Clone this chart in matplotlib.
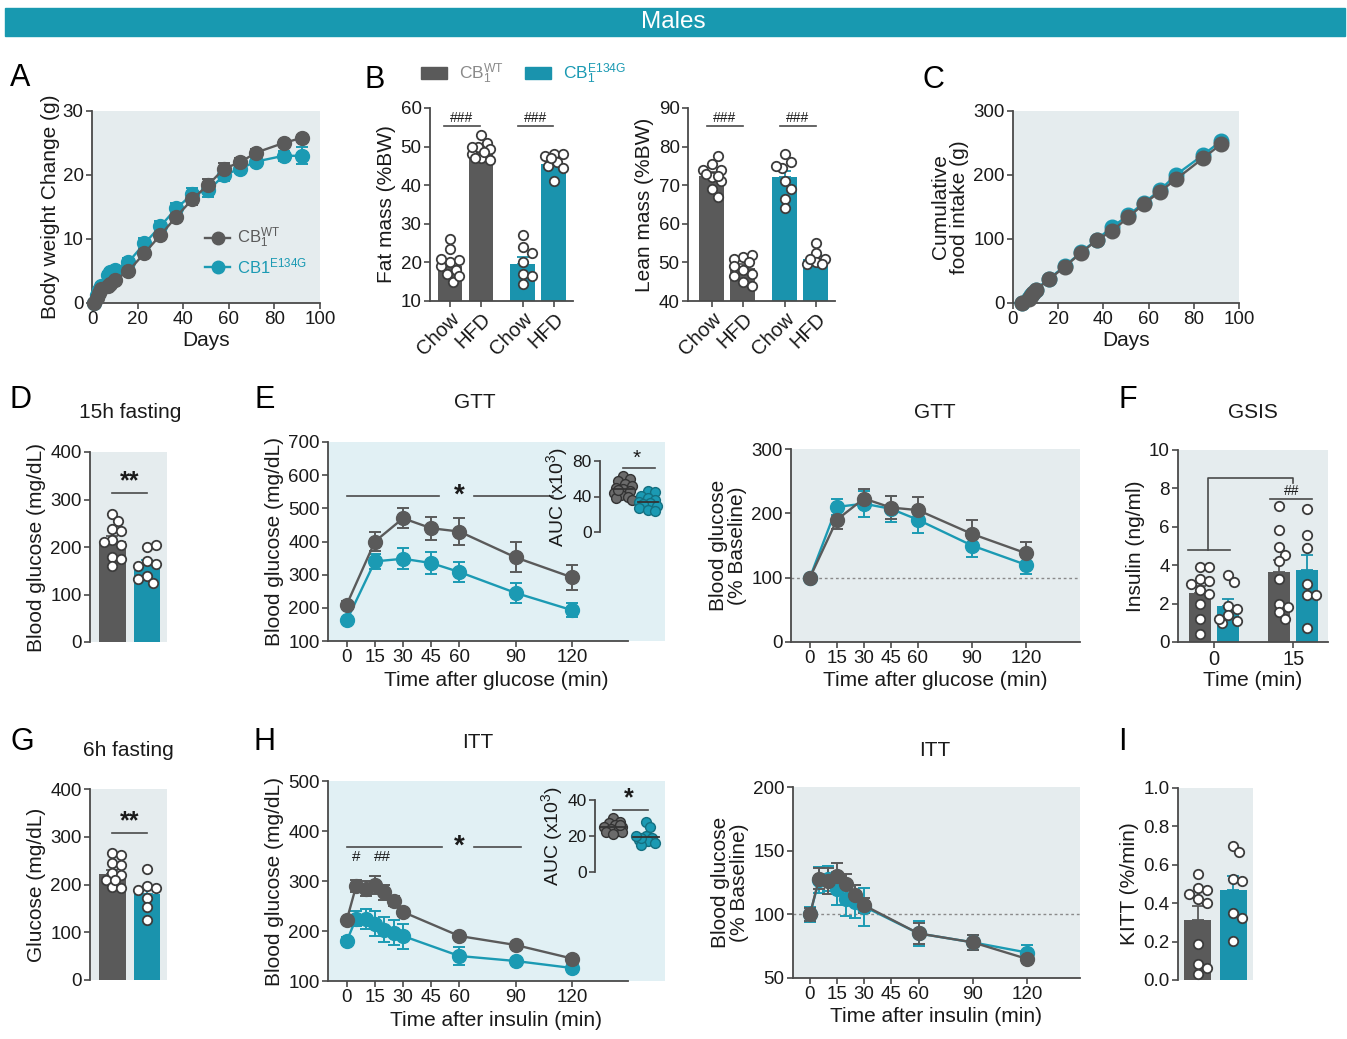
import matplotlib.pyplot as plt
import numpy as np
from matplotlib.patches import Patch, Rectangle
from matplotlib.lines import Line2D

plt.rcParams['font.family'] = ['Liberation Sans', 'DejaVu Sans']
plt.rcParams['mathtext.fontset'] = 'custom'
plt.rcParams['mathtext.rm'] = 'Liberation Sans'
plt.rcParams['mathtext.it'] = 'Liberation Sans:italic'
plt.rcParams['mathtext.bf'] = 'Liberation Sans:bold'

# ---------------- data ----------------
# A: body weight change
days_a = [1, 2, 3, 4, 7, 8, 10, 16, 23, 30, 37, 44, 51, 58, 65, 72, 84, 92]
bw_wt = [0, 0.8, 1.6, 2.2, 2.6, 3.0, 3.6, 5.0, 7.8, 10.6, 13.5, 16.2, 18.5, 21.0, 22.0, 23.5, 25.0, 25.8]
bw_wt_err = [0.2, 0.3, 0.3, 0.3, 0.4, 0.4, 0.4, 0.5, 0.6, 0.7, 0.7, 0.9, 0.8, 0.9, 0.6, 0.6, 0.5, 0.5]
bw_e = [0, 1.2, 2.0, 2.6, 4.4, 4.8, 5.2, 6.4, 9.3, 12.0, 14.8, 17.0, 17.6, 20.0, 21.0, 22.1, 23.0, 23.0]
bw_e_err = [0.2, 0.3, 0.3, 0.4, 0.5, 0.5, 0.5, 0.6, 0.8, 0.8, 0.8, 1.0, 1.0, 0.9, 0.7, 0.6, 0.8, 1.3]

# B: body composition
b_groups = ['Chow', 'HFD', 'Chow', 'HFD']
fat_mean = [19.0, 48.0, 19.5, 45.5]
fat_err = [1.2, 0.8, 1.8, 0.9]
fat_pts = [[23.5, 26, 20, 20.5, 18, 17, 15, 19, 21, 16.5],
           [53, 51, 50, 49.5, 48, 47, 46.5, 48.5, 47, 50],
           [27, 24, 22.5, 20, 17, 14.5, 16.5],
           [48, 48, 47.5, 46, 45, 44.5, 41, 47]]
lean_mean = [72.5, 48.5, 72.0, 51.0]
lean_err = [1.0, 1.0, 1.8, 0.7]
lean_pts = [[75.5, 74, 74, 77.5, 72, 69, 67, 71, 72.5, 73],
            [51.5, 52, 51, 50, 48, 47, 45, 44, 46.5, 49],
            [78, 76, 74.5, 75, 71, 69, 66.5, 64],
            [55, 52.5, 51, 50, 49.5, 49.5, 51]]

# C: cumulative food intake
days_c = [4, 7, 8, 9, 10, 16, 23, 30, 37, 44, 51, 58, 65, 72, 84, 92]
food_wt = [0, 7, 11, 15, 20, 37, 57, 78, 98, 113, 134, 155, 174, 193, 226, 248]
food_e = [0, 8, 12, 16, 21, 38, 58, 79, 99, 119, 137, 157, 176, 200, 231, 253]

# D: 15h fasting glucose
d_mean = [212, 163]
d_err = [12, 10]
d_pts = [[270, 255, 238, 233, 215, 205, 210, 180, 160, 175],
         [200, 205, 170, 165, 160, 140, 125, 133]]

# E: GTT
t_gtt = [0, 15, 30, 45, 60, 90, 120]
gtt_wt = [210, 400, 470, 440, 430, 352, 292]
gtt_wt_err = [10, 30, 30, 35, 40, 45, 38]
gtt_e = [162, 340, 348, 335, 308, 245, 193]
gtt_e_err = [8, 22, 32, 32, 30, 30, 22]
auc_gtt_wt = [63, 60, 57, 54, 52, 50, 48, 46, 44, 42, 40, 38, 36, 47]
auc_gtt_e = [46, 45, 41, 38, 36, 34, 33, 31, 29, 27, 25, 24]
gttp_wt = [100, 190, 223, 209, 205, 168, 138]
gttp_wt_err = [0, 15, 15, 18, 20, 22, 18]
gttp_e = [100, 210, 215, 207, 190, 150, 120]
gttp_e_err = [0, 12, 20, 20, 20, 18, 14]

# F: GSIS
f_mean = [2.55, 1.85, 3.65, 3.75]
f_err = [0.35, 0.4, 0.6, 0.8]
f_pts = [[3.9, 3.9, 3.3, 3.2, 3.0, 2.7, 2.5, 2.0, 1.2, 0.4],
         [3.5, 3.1, 1.9, 1.7, 1.4, 1.1, 1.0, 1.2],
         [7.1, 5.85, 4.95, 4.55, 4.2, 3.3, 2.0, 1.8, 1.55, 1.2],
         [6.95, 5.55, 4.9, 3.0, 2.45, 2.45, 0.75]]
f_ticks = ['0', '15']

# G: 6h fasting glucose
g_mean = [222, 180]
g_err = [8, 12]
g_pts = [[265, 262, 245, 240, 225, 220, 210, 195, 192, 210],
         [233, 197, 192, 188, 172, 153, 125]]

# H: ITT
t_itt = [0, 5, 10, 15, 20, 25, 30, 60, 90, 120]
itt_wt = [222, 290, 285, 292, 278, 260, 238, 190, 172, 145]
itt_wt_err = [5, 12, 15, 18, 15, 10, 8, 6, 5, 5]
itt_e = [180, 225, 225, 215, 203, 197, 190, 150, 140, 126]
itt_e_err = [8, 15, 20, 25, 25, 25, 25, 18, 5, 5]
auc_itt_wt = [30, 28, 27, 26, 25, 25, 24, 23, 22, 22, 21, 26]
auc_itt_e = [28, 25, 20, 19, 18, 17, 16, 15, 19, 20]
ittp_wt = [100, 128, 126, 130, 124, 115, 107, 85, 78, 65]
ittp_wt_err = [5, 8, 10, 10, 8, 8, 6, 8, 6, 3]
ittp_e = [100, 127, 128, 120, 112, 110, 106, 85, 78, 70]
ittp_e_err = [6, 10, 10, 13, 13, 13, 15, 10, 6, 6]

# I: KITT
i_mean = [0.315, 0.47]
i_err = [0.07, 0.07]
i_pts = [[0.55, 0.48, 0.47, 0.45, 0.42, 0.40, 0.19, 0.085, 0.065, 0.03],
         [0.70, 0.665, 0.525, 0.515, 0.35, 0.325, 0.205]]

# ---------------- style ----------------
W, H = 1347, 1039
GREY = '#5a5a5a'
TEAL = '#1b9ab3'
BTEAL = '#1a93ad'
AXC = '#4a4a4a'
TXT = '#1a1a1a'
BG_GREY = '#e5ecee'
BG_CYAN = '#e1f0f4'
HEAD = '#1899b0'
LBL = r'CB$_{1}^{\mathrm{WT}}$'
LBL_E = r'CB1$^{\mathrm{E134G}}$'
LBL_E1 = r'CB$_{1}^{\mathrm{E134G}}$'
FS_LAB = 15
FS_TICK = 13.5
FS_TIT = 15

fig = plt.figure(figsize=(W / 100, H / 100), dpi=100)


def px_ax(x0, y0, x1, y1):
    return fig.add_axes([x0 / W, 1 - y1 / H, (x1 - x0) / W, (y1 - y0) / H])


def ftext(x, y, s, **kw):
    fig.text(x / W, 1 - y / H, s, **kw)


def style(ax, bg=None, bottom=True, ls=FS_TICK):
    for s in ['top', 'right']:
        ax.spines[s].set_visible(False)
    for s in ['left', 'bottom']:
        ax.spines[s].set_color(AXC)
        ax.spines[s].set_linewidth(1.3)
    if not bottom:
        ax.spines['bottom'].set_visible(False)
        ax.set_xticks([])
    ax.tick_params(colors=AXC, labelcolor=TXT, labelsize=ls, length=4, width=1.2, pad=2)
    if bg:
        ax.set_facecolor(bg)
    else:
        ax.patch.set_alpha(0)


def swarm(ax, xc, vals, d, maxw, **kw):
    # place points side by side (in pixels) within +-maxw of the centre
    T = ax.transData
    inv = T.inverted()
    cx = T.transform((xc, 0))[0]
    step = d * 0.35
    n = int(maxw / step)
    cands = [0]
    for k in range(1, n + 1):
        cands += [k * step, -k * step]
    placed, xs = [], []
    for v in vals:
        py = T.transform((xc, v))[1]
        best, best_gap = 0, -1
        for off in cands:
            gap = min([np.hypot(cx + off - qx, py - qy) for qx, qy in placed] + [1e9])
            if gap >= d:
                best = off
                break
            if gap > best_gap:
                best, best_gap = off, gap
        placed.append((cx + best, py))
        xs.append(inv.transform((cx + best, py))[0])
    ax.scatter(xs, vals, clip_on=False, **kw)


def bars(ax, xs, means, errs, colors, pts, width, maxw):
    for x, m, e, c, p in zip(xs, means, errs, colors, pts):
        ax.bar(x, m, width, color=c, zorder=2)
        ax.errorbar(x, m, yerr=[[0], [e]], color=c, capsize=4, lw=1.3, capthick=1.3, zorder=2)
    for x, p in zip(xs, pts):
        swarm(ax, x, p, 8.5, maxw, s=46, facecolor='white', edgecolor='#3c3c3c', linewidth=1.3, zorder=4)


def line(ax, x, y, e, c, ms=10):
    cont = ax.errorbar(x, y, yerr=e, color=c, marker='o', ms=ms, lw=1.7, capsize=4,
                       elinewidth=1.4, capthick=1.4, zorder=3)
    for art in cont.get_children():
        art.set_clip_on(False)


def auc(ax, wt, e):
    swarm(ax, 0, wt, 6.5, 11, s=50, facecolor='#6b6b6b', edgecolor='#333333', linewidth=1, zorder=3)
    swarm(ax, 1, e, 6.5, 11, s=50, facecolor=TEAL, edgecolor='#146f80', linewidth=1, zorder=3)
    for x, v in [(0, wt), (1, e)]:
        m = np.mean(v)
        ax.plot([x - 0.4, x + 0.4], [m, m], color='#333333', lw=1.3, zorder=4, clip_on=False)


# header
fig.add_artist(Rectangle((5 / W, 1 - 36 / H), 1340 / W, 28 / H, transform=fig.transFigure,
                         color=HEAD, zorder=0))
ftext(673, 22, 'Males', color='white', fontsize=17.5, ha='center', va='center')

# panel letters
for s, x, y in [('A', 20, 78), ('B', 375, 80), ('C', 933, 80), ('D', 20, 400), ('E', 265, 400),
                ('F', 1128, 400), ('G', 22, 742), ('H', 265, 742), ('I', 1122, 742)]:
    ftext(x, y, s, fontsize=22, ha='center', va='center', color='black')

# ---------- A ----------
ax = px_ax(92, 111, 320, 303)
style(ax, BG_GREY)
line(ax, days_a, bw_e, bw_e_err, TEAL)
line(ax, days_a, bw_wt, bw_wt_err, GREY)
ax.set_xlim(0, 100)
ax.set_ylim(0, 30)
ax.set_xticks([0, 20, 40, 60, 80, 100])
ax.set_yticks([0, 10, 20, 30])
ax.set_xlabel('Days', fontsize=FS_LAB, color=TXT, labelpad=2)
ax.set_ylabel('Body weight Change (g)', fontsize=FS_LAB, color=TXT, labelpad=2)
hs = [Line2D([], [], color=GREY, marker='o', ms=9, lw=1.7),
      Line2D([], [], color=TEAL, marker='o', ms=9, lw=1.7)]
leg = ax.legend(hs, [LBL, LBL_E], loc='center left', bbox_to_anchor=(0.43, 0.27), frameon=False,
                fontsize=12, handlelength=1.5, labelspacing=0.35, handletextpad=0.4)
leg.get_texts()[0].set_color(GREY)
leg.get_texts()[1].set_color(TEAL)

# ---------- B ----------
bpos = [0, 1, 2.35, 3.35]
bcol = [GREY, GREY, BTEAL, BTEAL]
ax = px_ax(430, 108, 573, 301)
style(ax)
ax.set_xlim(-0.65, 3.97)
ax.set_ylim(10, 60)
bars(ax, bpos, fat_mean, fat_err, bcol, fat_pts, 0.8, 10)
ax.set_yticks([10, 20, 30, 40, 50, 60])
ax.set_xticks(bpos)
ax.set_xticklabels(b_groups, rotation=45, ha='right', rotation_mode='anchor', fontsize=14.5)
ax.set_ylabel('Fat mass (%BW)', fontsize=FS_LAB, color=TXT, labelpad=3)
for a, b in [(-0.2, 0.97), (2.19, 3.32)]:
    ax.plot([a, b], [55.3, 55.3], color=AXC, lw=1.2, clip_on=False)
    ax.text((a + b) / 2, 55.6, '###', ha='center', va='bottom', fontsize=10, color=TXT)

ax = px_ax(688, 108, 835, 301)
style(ax)
ax.set_xlim(-0.77, 3.97)
ax.set_ylim(40, 90)
bars(ax, bpos, lean_mean, lean_err, bcol, lean_pts, 0.8, 10)
ax.set_yticks([40, 50, 60, 70, 80, 90])
ax.set_xticks(bpos)
ax.set_xticklabels(b_groups, rotation=45, ha='right', rotation_mode='anchor', fontsize=14.5)
ax.set_ylabel('Lean mass (%BW)', fontsize=FS_LAB, color=TXT, labelpad=3)
for a, b in [(-0.16, 1.0), (2.2, 3.35)]:
    ax.plot([a, b], [85.3, 85.3], color=AXC, lw=1.2, clip_on=False)
    ax.text((a + b) / 2, 85.6, '###', ha='center', va='bottom', fontsize=10, color=TXT)

bh = [Patch(color=GREY), Patch(color=BTEAL)]
bleg = fig.legend(bh, [LBL, LBL_E1], loc='center left', bbox_to_anchor=(405 / W, 1 - 74 / H),
                  ncol=2, frameon=False, fontsize=12.5, handlelength=1.5, handleheight=0.7,
                  columnspacing=1.2, handletextpad=0.7)
bleg.get_texts()[0].set_color('#8a8a8a')
bleg.get_texts()[1].set_color(TEAL)

# ---------- C ----------
ax = px_ax(1013, 111, 1239, 303)
style(ax, BG_GREY)
line(ax, days_c, food_e, None, TEAL, ms=10.5)
line(ax, days_c, food_wt, None, GREY, ms=10.5)
ax.set_xlim(0, 100)
ax.set_ylim(0, 300)
ax.set_xticks([0, 20, 40, 60, 80, 100])
ax.set_yticks([0, 100, 200, 300])
ax.set_xlabel('Days', fontsize=FS_LAB, color=TXT, labelpad=2)
ax.set_ylabel('Cumulative\nfood intake (g)', fontsize=FS_LAB, color=TXT, labelpad=3, linespacing=1.0)

# ---------- D ----------
ax = px_ax(90, 452, 167, 642)
style(ax, BG_GREY, bottom=False)
ax.set_xlim(-0.65, 1.58)
ax.set_ylim(0, 400)
bars(ax, [0, 1], d_mean, d_err, [GREY, BTEAL], d_pts, 0.78, 11)
ax.set_yticks([0, 100, 200, 300, 400])
ax.set_ylabel('Blood glucose (mg/dL)', fontsize=FS_LAB, color=TXT, labelpad=3)
ax.plot([0, 1], [313, 313], color=AXC, lw=1.2)
ax.text(0.5, 313, '**', ha='center', va='bottom', fontsize=18, fontweight='bold', color=TXT)
ftext(130, 413, '15h fasting', fontsize=FS_TIT, ha='center', va='center', color=TXT)

# ---------- E left ----------
ax = px_ax(328, 442, 665, 641)
style(ax, BG_CYAN)
ax.set_xlim(-10, 169.6)
ax.set_ylim(100, 700)
ax.spines['bottom'].set_bounds(-10, 150)
line(ax, t_gtt, gtt_e, gtt_e_err, TEAL)
line(ax, t_gtt, gtt_wt, gtt_wt_err, GREY)
ax.set_xticks(t_gtt)
ax.set_yticks([100, 200, 300, 400, 500, 600, 700])
ax.set_xlabel('Time after glucose (min)', fontsize=FS_LAB, color=TXT, labelpad=3)
ax.set_ylabel('Blood glucose (mg/dL)', fontsize=FS_LAB, color=TXT, labelpad=3)
ax.plot([0, 49], [537, 537], color=AXC, lw=1.2)
ax.plot([68, 110], [537, 537], color=AXC, lw=1.2)
ax.text(60, 537, '*', ha='center', va='center', fontsize=20, fontweight='bold', color=TXT)
ftext(475, 403, 'GTT', fontsize=FS_TIT, ha='center', va='center', color=TXT)

ax = px_ax(600, 461, 660, 532)
style(ax, bottom=False, ls=12.5)
ax.set_xlim(-0.92, 1.48)
ax.set_ylim(0, 80)
ax.set_yticks([0, 40, 80])
auc(ax, auc_gtt_wt, auc_gtt_e)
ax.plot([0, 1.28], [72, 72], color=AXC, lw=1.2, clip_on=False)
ax.text(0.56, 72, '*', ha='center', va='bottom', fontsize=15, color=TXT)
ax.set_ylabel(r'AUC (x10$^{3}$)', fontsize=14, color=TXT, labelpad=2)

# ---------- E right ----------
ax = px_ax(791, 449, 1080, 642)
style(ax, BG_GREY)
ax.set_xlim(-10.5, 150)
ax.set_ylim(0, 300)
ax.axhline(100, color='#8a8a8a', lw=1, ls=(0, (2, 2)), zorder=1)
line(ax, t_gtt, gttp_e, gttp_e_err, TEAL)
line(ax, t_gtt, gttp_wt, gttp_wt_err, GREY)
ax.set_xticks(t_gtt)
ax.set_yticks([0, 100, 200, 300])
ax.set_xlabel('Time after glucose (min)', fontsize=FS_LAB, color=TXT, labelpad=3)
ax.set_ylabel('Blood glucose\n(% Baseline)', fontsize=FS_LAB, color=TXT, labelpad=3, linespacing=1.0)
ftext(935, 412, 'GTT', fontsize=FS_TIT, ha='center', va='center', color=TXT)

# ---------- F ----------
ax = px_ax(1178, 450, 1328, 642)
style(ax, BG_GREY)
ax.set_xlim(-0.456, 1.44)
ax.set_ylim(0, 10)
fpos = [-0.177, 0.177, 0.823, 1.177]
bars(ax, fpos, f_mean, f_err, [GREY, BTEAL, GREY, BTEAL], f_pts, 0.28, 9)
ax.set_xticks([0, 1])
ax.set_xticklabels(f_ticks, fontsize=14.5)
ax.set_yticks([0, 2, 4, 6, 8, 10])
ax.set_xlabel('Time (min)', fontsize=FS_LAB, color=TXT, labelpad=1)
ax.set_ylabel('Insulin (ng/ml)', fontsize=FS_LAB, color=TXT, labelpad=3)
ax.plot([-0.33, 0.2], [4.8, 4.8], color=AXC, lw=1.2)
ax.plot([-0.08, -0.08, 1.0, 1.0], [4.8, 8.54, 8.54, 8.28], color=AXC, lw=1.2)
ax.plot([0.71, 1.24], [7.45, 7.45], color=AXC, lw=1.2)
ax.text(0.98, 7.5, '##', ha='center', va='bottom', fontsize=10, color=TXT)
ftext(1253, 412, 'GSIS', fontsize=FS_TIT, ha='center', va='center', color=TXT)

# ---------- G ----------
ax = px_ax(90, 789, 167, 980)
style(ax, BG_GREY, bottom=False)
ax.set_xlim(-0.65, 1.58)
ax.set_ylim(0, 400)
bars(ax, [0, 1], g_mean, g_err, [GREY, BTEAL], g_pts, 0.78, 11)
ax.set_yticks([0, 100, 200, 300, 400])
ax.set_ylabel('Glucose (mg/dL)', fontsize=FS_LAB, color=TXT, labelpad=3)
ax.plot([0, 1], [308, 308], color=AXC, lw=1.2)
ax.text(0.5, 308, '**', ha='center', va='bottom', fontsize=18, fontweight='bold', color=TXT)
ftext(128, 750, '6h fasting', fontsize=FS_TIT, ha='center', va='center', color=TXT)

# ---------- H left ----------
ax = px_ax(328, 781, 665, 981)
style(ax, BG_CYAN)
ax.set_xlim(-10, 169.6)
ax.set_ylim(100, 500)
ax.spines['bottom'].set_bounds(-10, 150)
line(ax, t_itt, itt_e, itt_e_err, TEAL)
line(ax, t_itt, itt_wt, itt_wt_err, GREY)
ax.set_xticks(t_gtt)
ax.set_yticks([100, 200, 300, 400, 500])
ax.set_xlabel('Time after insulin (min)', fontsize=FS_LAB, color=TXT, labelpad=3)
ax.set_ylabel('Blood glucose (mg/dL)', fontsize=FS_LAB, color=TXT, labelpad=3)
ax.plot([0, 51], [368, 368], color=AXC, lw=1.2)
ax.plot([68, 93], [368, 368], color=AXC, lw=1.2)
ax.text(60, 368, '*', ha='center', va='center', fontsize=20, fontweight='bold', color=TXT)
ax.text(5, 348, '#', ha='center', va='center', fontsize=11, color=TXT)
ax.text(19, 348, '##', ha='center', va='center', fontsize=11, color=TXT)
ftext(478, 742, 'ITT', fontsize=FS_TIT, ha='center', va='center', color=TXT)

ax = px_ax(595, 800, 665, 872)
style(ax, bottom=False, ls=12.5)
ax.set_xlim(-0.56, 1.6)
ax.set_ylim(0, 40)
ax.set_yticks([0, 20, 40])
auc(ax, auc_itt_wt, auc_itt_e)
ax.plot([0, 1.06], [34.5, 34.5], color=AXC, lw=1.2, clip_on=False)
ax.text(0.47, 34.5, '*', ha='center', va='bottom', fontsize=18, fontweight='bold', color=TXT)
ax.set_ylabel(r'AUC (x10$^{3}$)', fontsize=14, color=TXT, labelpad=2)

# ---------- H right ----------
ax = px_ax(793, 787, 1080, 978)
style(ax, BG_GREY)
ax.set_xlim(-9.4, 149.3)
ax.set_ylim(50, 200)
ax.axhline(100, color='#8a8a8a', lw=1, ls=(0, (2, 2)), zorder=1)
line(ax, t_itt, ittp_e, ittp_e_err, TEAL)
line(ax, t_itt, ittp_wt, ittp_wt_err, GREY)
ax.set_xticks(t_gtt)
ax.set_yticks([50, 100, 150, 200])
ax.set_xlabel('Time after insulin (min)', fontsize=FS_LAB, color=TXT, labelpad=3)
ax.set_ylabel('Blood glucose\n(% Baseline)', fontsize=FS_LAB, color=TXT, labelpad=3, linespacing=1.0)
ftext(935, 750, 'ITT', fontsize=FS_TIT, ha='center', va='center', color=TXT)

# ---------- I ----------
ax = px_ax(1178, 788, 1253, 980)
style(ax, BG_GREY, bottom=False)
ax.set_xlim(-0.57, 1.57)
ax.set_ylim(0, 1)
bars(ax, [0, 1], i_mean, i_err, [GREY, BTEAL], i_pts, 0.77, 11)
ax.set_yticks([0, 0.2, 0.4, 0.6, 0.8, 1.0])
ax.set_yticklabels(['0.0', '0.2', '0.4', '0.6', '0.8', '1.0'])
ax.set_ylabel('KITT (%/min)', fontsize=FS_LAB, color=TXT, labelpad=3)

fig.savefig('out.png', dpi=100, facecolor='white')
